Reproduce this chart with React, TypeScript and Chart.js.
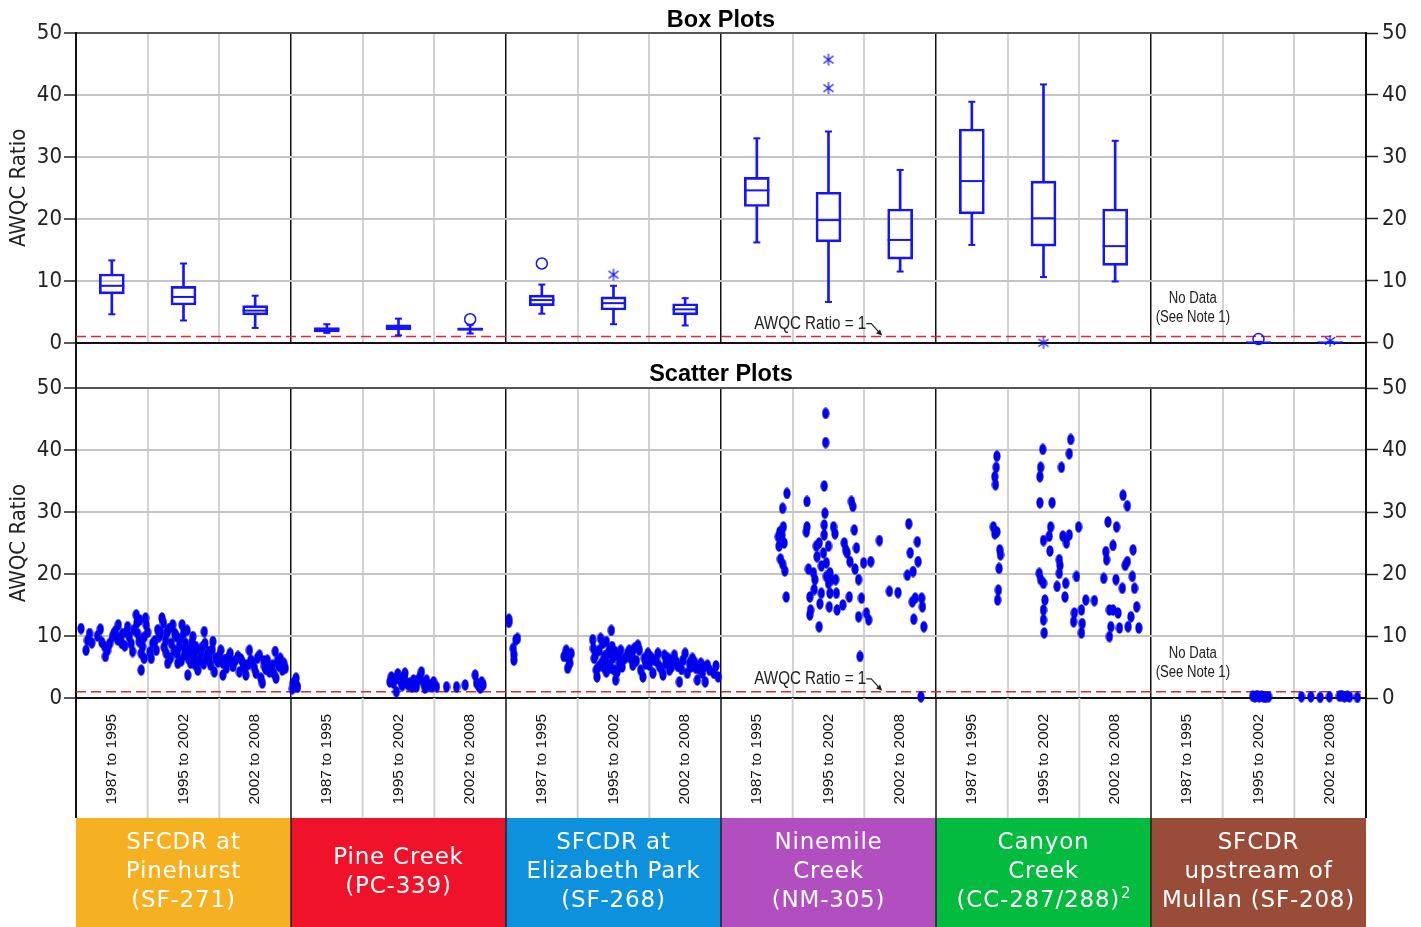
import React, { useEffect, useRef } from 'react';
import { Chart, registerables } from 'chart.js';

Chart.register(...registerables);

const W = 1421;
const BOX_H = 360;
const SCAT_H = 567;

const NARROW = '"Liberation Sans Narrow", "Arial Narrow", "DejaVu Sans Condensed", "Liberation Sans", sans-serif';
const SANS = '"Liberation Sans", Arial, sans-serif';
const BOXFONT = '"DejaVu Sans", Verdana, sans-serif';

const BOX_BLUE = '#1414ff';
const DOT_BLUE = '#0000ee';
const RED = '#e3262f';

// ---------------- data ----------------
const periods = ['1987 to 1995', '1995 to 2002', '2002 to 2008'];
const siteNames = [
  ['SFCDR at', 'Pinehurst', '(SF-271)'],
  ['Pine Creek', '(PC-339)'],
  ['SFCDR at', 'Elizabeth Park', '(SF-268)'],
  ['Ninemile', 'Creek', '(NM-305)'],
  ['Canyon', 'Creek', '(CC-287/288)'],
  ['SFCDR', 'upstream of', 'Mullan (SF-208)'],
];
const siteFootnotes = ['', '', '', '', '2', ''];
const siteColors = ['#F5B122', '#F0112A', '#0E91DD', '#B14FC1', '#02BB3F', '#994D39'];
const awqcLimit = 1;
const yMax = 50;
const yStep = 10;
const noDataSite = 5;
const noDataPeriod = 0;
const annotationSite = 3;

// Box-plot statistics per period: [min, q1, median, q3, max]; null = no data
const boxPinehurst = [[4.6, 7.9, 9.2, 11.1, 13.3], [3.6, 6.1, 7.4, 9.1, 12.8], [2.4, 4.5, 5.2, 6.0, 7.6]];
const boxPineCreek = [[1.6, 1.76, 2.1, 2.45, 3.0], [1.2, 2.1, 2.55, 2.9, 3.9], [1.5, 2.0, 2.2, 2.4, 2.9]];
const boxElizabeth = [[4.7, 6.0, 6.9, 7.7, 9.4], [3.0, 5.3, 6.4, 7.4, 9.2], [2.8, 4.5, 5.4, 6.3, 7.2]];
const boxNinemile = [[16.2, 22.0, 24.6, 26.7, 33.0], [6.6, 16.3, 19.8, 24.3, 34.1], [11.5, 13.5, 16.6, 21.6, 27.9]];
const boxCanyon = [[15.8, 20.8, 26.1, 34.5, 38.9], [10.6, 15.6, 20.1, 26.1, 41.7], [9.9, 12.5, 15.6, 21.6, 32.6]];
const boxMullan = [null, [0, 0, 0.05, 0.12, 0.15], [0, 0, 0.05, 0.12, 0.15]];
const boxStats = [boxPinehurst, boxPineCreek, boxElizabeth, boxNinemile, boxCanyon, boxMullan];

// Outliers: [site, period, value]
const outlierCircles = [[1, 2, 3.8], [2, 0, 12.8], [5, 1, 0.6]];
const outlierStars = [[2, 1, 11.0], [3, 1, 45.7], [3, 1, 41.1], [4, 1, 0.0], [5, 2, 0.3]];

// Scatter samples per site: [position across the three periods (0-3), AWQC ratio]
const scatPinehurst = [
  [0.07, 11.2], [0.19, 10.4], [0.16, 9.3], [0.14, 7.7], [0.34, 11.1], [0.40, 8.3], [0.41, 6.7], [0.44, 7.7],
  [0.47, 8.8], [0.51, 9.9], [0.53, 10.4], [0.59, 11.8], [0.58, 9.4], [0.64, 8.8], [0.65, 10.4], [0.72, 11.5],
  [0.71, 10.7], [0.74, 9.9], [0.77, 8.8], [0.79, 7.5], [0.84, 13.4], [0.85, 12.1], [0.86, 10.4], [0.88, 9.1],
  [0.91, 7.2], [0.91, 4.5], [0.97, 12.9], [0.98, 11.8], [0.93, 8.3], [0.95, 6.4], [1.05, 6.4], [1.07, 8.8],
  [1.12, 7.7], [1.14, 11.0], [1.16, 9.9], [1.20, 12.9], [1.22, 12.1], [1.25, 9.4], [1.26, 7.2], [1.28, 5.6],
  [1.30, 11.2], [1.33, 8.8], [1.35, 11.8], [1.37, 7.7], [1.40, 9.9], [1.42, 5.6], [1.44, 8.3], [1.48, 11.8],
  [1.50, 10.4], [1.51, 6.9], [1.53, 8.8], [1.56, 3.7], [1.58, 7.7], [1.60, 5.6], [1.63, 9.9], [1.65, 6.7],
  [1.67, 8.3], [1.70, 4.5], [1.74, 7.2], [1.79, 10.7], [1.80, 8.8], [1.81, 6.1], [1.85, 7.5], [1.88, 5.3],
  [1.91, 9.1], [1.93, 4.2], [1.95, 6.4], [2.02, 7.7], [2.05, 5.6], [2.05, 3.7], [2.12, 6.4], [2.15, 7.2],
  [2.19, 5.1], [2.26, 6.7], [2.28, 4.2], [2.33, 5.6], [2.37, 3.7], [2.42, 7.7], [2.44, 6.1], [2.49, 4.8],
  [2.53, 6.4], [2.56, 6.9], [2.58, 3.2], [2.60, 2.4], [2.63, 5.1], [2.67, 6.1], [2.70, 4.2], [2.74, 5.3],
  [2.78, 7.5], [2.79, 3.2], [2.81, 5.9], [2.85, 6.4], [2.88, 4.5],
  [0.22, 8.9], [0.30, 10.0], [0.36, 9.0], [0.55, 10.8], [0.62, 9.8], [0.68, 8.4], [0.81, 11.0], [0.89, 12.6],
  [0.95, 9.8], [1.00, 10.6], [1.03, 7.4], [1.10, 9.2], [1.18, 10.6], [1.23, 8.2], [1.27, 10.6], [1.32, 6.5],
  [1.38, 10.4], [1.41, 7.2], [1.45, 9.5], [1.47, 6.0], [1.52, 8.0], [1.55, 10.9], [1.57, 6.3], [1.61, 7.4],
  [1.62, 9.0], [1.66, 5.4], [1.68, 7.8], [1.72, 6.0], [1.76, 8.2], [1.78, 5.5], [1.83, 7.0], [1.86, 6.6],
  [1.90, 7.8], [1.98, 5.8], [2.00, 6.8], [2.08, 6.2], [2.10, 4.8], [2.17, 5.8], [2.22, 6.0], [2.30, 6.3],
  [2.35, 4.9], [2.40, 5.4], [2.46, 5.7], [2.51, 4.0], [2.62, 6.0], [2.65, 4.6], [2.72, 5.0], [2.76, 4.0],
  [2.83, 5.2], [2.90, 5.6], [2.92, 4.8],
];
const scatPineCreek = [
  [0.02, 1.5], [0.03, 2.4], [0.07, 3.2], [0.08, 2.0], [0.09, 1.7],
  [1.38, 2.6], [1.40, 3.4], [1.43, 2.4], [1.45, 3.0], [1.47, 1.0], [1.49, 3.9], [1.52, 2.9], [1.55, 2.0],
  [1.57, 3.4], [1.59, 4.0], [1.61, 2.5], [1.64, 2.0], [1.66, 2.4], [1.69, 1.8], [1.71, 2.9], [1.74, 2.2],
  [1.75, 1.8], [1.78, 3.0], [1.80, 3.4], [1.82, 4.2], [1.85, 2.4], [1.87, 1.6], [1.89, 2.9], [1.92, 2.0],
  [1.94, 2.1], [1.97, 1.8], [1.99, 2.6], [2.03, 1.8], [2.17, 1.8], [2.31, 1.8], [2.43, 2.1], [2.57, 3.7],
  [2.59, 2.4], [2.62, 1.9], [2.64, 1.6], [2.66, 2.6], [2.68, 2.1],
];
const scatElizabeth = [
  [0.04, 12.7], [0.04, 12.2], [0.14, 9.4], [0.16, 9.6], [0.10, 8.0], [0.11, 6.1], [0.11, 7.0],
  [0.81, 6.7], [0.84, 7.7], [0.86, 6.9], [0.88, 6.1], [0.86, 4.8], [0.91, 7.2], [0.89, 5.6],
  [1.21, 9.4], [1.22, 8.0], [1.23, 6.4], [1.26, 4.5], [1.27, 3.4], [1.30, 7.7], [1.33, 5.6], [1.35, 8.8],
  [1.37, 6.7], [1.40, 4.2], [1.40, 9.1], [1.42, 7.2], [1.44, 5.3], [1.47, 10.9], [1.48, 8.3], [1.49, 6.4],
  [1.51, 4.5], [1.53, 2.9], [1.56, 6.9], [1.58, 5.6], [1.60, 7.7], [1.63, 6.1], [1.70, 7.2], [1.72, 7.7],
  [1.74, 6.4], [1.77, 5.3], [1.79, 8.0], [1.84, 8.5], [1.86, 7.7], [1.88, 4.5], [1.91, 3.4], [1.93, 6.4],
  [1.98, 7.2], [2.00, 5.3], [2.05, 4.0], [2.07, 6.1], [2.12, 7.2], [2.14, 5.1], [2.19, 3.7], [2.21, 6.9],
  [2.23, 5.6], [2.28, 4.5], [2.33, 6.1], [2.35, 6.9], [2.40, 5.1], [2.42, 2.6], [2.47, 6.1], [2.50, 7.2],
  [2.53, 4.0], [2.56, 5.6], [2.60, 6.4], [2.65, 4.8], [2.67, 2.9], [2.72, 5.6], [2.74, 4.0], [2.78, 2.6],
  [2.81, 5.3], [2.84, 4.5],
  [1.25, 7.0], [1.29, 5.0], [1.32, 9.6], [1.36, 5.0], [1.39, 6.2], [1.45, 7.8], [1.46, 4.8], [1.52, 7.5],
  [1.55, 4.2], [1.62, 5.0], [1.67, 6.5], [1.76, 6.8], [1.82, 6.0], [1.95, 5.5], [2.02, 6.6], [2.10, 6.0],
  [2.17, 4.6], [2.26, 6.4], [2.31, 5.0], [2.38, 5.8], [2.45, 4.6], [2.58, 5.0], [2.63, 5.8], [2.70, 4.6],
  [2.76, 5.0], [2.90, 4.0], [2.93, 5.2], [2.96, 3.4],
];
const scatNinemile = [
  [0.92, 33.0], [0.86, 30.6], [0.82, 26.8], [0.80, 26.0], [0.87, 27.6], [0.85, 26.3], [0.88, 25.0], [0.81, 24.5],
  [0.83, 22.4], [0.86, 21.6], [0.89, 20.5], [0.91, 16.3],
  [1.20, 31.7], [1.20, 27.6], [1.19, 26.8], [1.22, 20.8], [1.24, 16.3], [1.25, 14.2], [1.24, 13.4], [1.29, 20.2],
  [1.31, 19.1], [1.30, 17.5], [1.33, 24.5], [1.34, 22.8], [1.37, 25.0], [1.37, 11.5], [1.38, 15.2], [1.40, 16.9],
  [1.40, 21.3], [1.43, 23.4], [1.44, 26.3], [1.44, 27.9], [1.45, 29.8], [1.44, 34.2], [1.46, 41.2], [1.46, 45.9],
  [1.47, 21.8], [1.50, 24.5], [1.47, 19.6], [1.50, 18.5], [1.52, 20.2], [1.52, 16.9], [1.51, 14.7], [1.54, 19.1],
  [1.57, 27.6], [1.59, 26.5], [1.60, 19.1], [1.61, 16.9], [1.62, 14.2], [1.70, 15.0], [1.72, 25.0], [1.74, 23.9],
  [1.76, 23.4], [1.79, 16.3], [1.80, 22.0], [1.82, 31.7], [1.84, 30.9], [1.86, 27.1], [1.87, 20.8], [1.89, 24.2],
  [1.92, 19.1], [1.92, 13.1], [1.94, 6.7], [1.96, 16.1], [1.99, 21.8], [2.03, 13.7], [2.06, 12.6], [2.09, 22.0],
  [2.21, 25.4], [2.35, 17.2], [2.47, 17.0], [2.60, 19.8], [2.62, 28.1], [2.64, 23.4], [2.68, 20.4], [2.67, 15.5],
  [2.71, 16.1], [2.74, 25.2], [2.75, 22.0], [2.69, 12.7], [2.80, 16.1], [2.81, 14.7], [2.83, 11.5], [2.79, 0.2],
];
const scatCanyon = [
  [0.85, 39.0], [0.84, 37.2], [0.82, 35.7], [0.83, 34.4], [0.80, 27.6], [0.82, 26.5], [0.85, 26.8], [0.89, 23.9],
  [0.90, 23.1], [0.88, 20.9], [0.87, 17.4], [0.86, 15.8],
  [1.49, 40.1], [1.46, 37.2], [1.45, 35.7], [1.45, 31.5], [1.62, 31.5], [1.60, 27.6], [1.58, 26.1], [1.50, 25.4],
  [1.59, 23.7], [1.72, 22.3], [1.73, 21.4], [1.72, 20.1], [1.44, 20.1], [1.46, 19.1], [1.50, 18.5], [1.52, 15.8],
  [1.50, 14.2], [1.50, 12.6], [1.51, 10.5], [1.69, 18.0], [1.77, 26.1], [1.82, 25.0], [1.86, 26.3], [1.75, 37.2],
  [1.86, 39.4], [1.88, 41.7], [1.81, 18.5], [1.80, 16.3], [1.93, 13.7], [1.92, 12.3], [1.96, 19.6], [1.99, 27.6],
  [2.03, 14.2], [2.04, 12.0], [2.03, 10.5], [2.09, 15.8], [2.21, 15.7], [2.34, 19.3], [2.37, 23.6], [2.38, 22.3],
  [2.40, 28.4], [2.47, 24.6], [2.51, 19.1], [2.52, 27.6], [2.42, 14.2], [2.44, 11.5], [2.42, 9.9], [2.47, 14.2],
  [2.54, 13.7], [2.56, 11.3], [2.60, 17.7], [2.61, 32.7], [2.67, 31.0], [2.64, 21.4], [2.67, 22.0], [2.72, 13.1],
  [2.68, 11.5], [2.74, 19.6], [2.75, 23.9], [2.77, 17.7], [2.80, 14.7], [2.83, 11.3],
];
const scatMullan = [
  [1.42, 0.3], [1.45, 0.2], [1.48, 0.4], [1.51, 0.2], [1.54, 0.3], [1.57, 0.2], [1.60, 0.1], [1.64, 0.2],
  [2.10, 0.2], [2.23, 0.2], [2.36, 0.1], [2.49, 0.2], [2.63, 0.3], [2.66, 0.4], [2.70, 0.2], [2.74, 0.3],
  [2.77, 0.2], [2.88, 0.1],
];
const scatterSites = [scatPinehurst, scatPineCreek, scatElizabeth, scatNinemile, scatCanyon, scatMullan];

// ---------------- helpers ----------------
const nSites = siteNames.length;
const nPer = periods.length;
const xMax = nSites * nPer;
const periodCenter = (s: number, p: number) => s * nPer + p + 0.5;
const tickCenters: number[] = [];
for (let s = 0; s < nSites; s++) for (let p = 0; p < nPer; p++) tickCenters.push(periodCenter(s, p));

function makeDot(color: string) {
  const c = document.createElement('canvas');
  c.width = 8; c.height = 12;
  const g = c.getContext('2d')!;
  g.fillStyle = color;
  g.beginPath();
  g.ellipse(4, 6, 3.6, 5.7, 0, 0, Math.PI * 2);
  g.fill();
  return c;
}
function makeAsterisk(color: string) {
  const c = document.createElement('canvas');
  c.width = 14; c.height = 14;
  const g = c.getContext('2d')!;
  g.strokeStyle = color;
  g.lineWidth = 1.2;
  g.beginPath();
  g.moveTo(7, 1); g.lineTo(7, 13);
  const dx = 6.2 * Math.cos(Math.PI / 5), dy = 6.2 * Math.sin(Math.PI / 5);
  g.moveTo(7 - dx, 7 - dy); g.lineTo(7 + dx, 7 + dy);
  g.moveTo(7 - dx, 7 + dy); g.lineTo(7 + dx, 7 - dy);
  g.stroke();
  return c;
}

// narrow text drawn as real canvas text, horizontally condensed
function narrowText(ctx: any, text: string, x: number, y: number, size: number, align: string) {
  ctx.save();
  ctx.font = `${size}px ${SANS}`;
  ctx.textAlign = align;
  ctx.textBaseline = 'middle';
  ctx.translate(x, y);
  ctx.scale(0.82, 1);
  ctx.fillText(text, 0, 0);
  ctx.restore();
}

const xGridColor = (c: any) => (c.tick && c.tick.value % nPer === 0 ? '#111' : '#d2d2d2');
const xGridWidth = (c: any) => (c.tick && c.tick.value % nPer === 0 ? 1.5 : 2);
const yGridColor = (c: any) => {
  const v = c.tick ? c.tick.value : -1;
  return v === 0 ? '#111' : v === yMax ? '#555' : '#c4c4c4';
};

function yAxes() {
  const tickFont = { family: NARROW, size: 22 };
  return {
    y: {
      type: 'linear', position: 'left', min: 0, max: yMax,
      ticks: { stepSize: yStep, padding: 2, color: '#222', font: tickFont },
      grid: { color: yGridColor, lineWidth: 2, tickLength: 12, tickColor: '#222', tickWidth: 1.5 },
      border: { display: true, color: '#111', width: 2 },
      title: { display: true, text: 'AWQC Ratio', color: '#222', font: tickFont, padding: { top: 6, bottom: 0 } },
      afterFit: (s: any) => { s.width = 76; },
    },
    y2: {
      type: 'linear', position: 'right', min: 0, max: yMax,
      ticks: { stepSize: yStep, padding: 4, color: '#222', font: tickFont },
      grid: { drawOnChartArea: false, tickLength: 12, tickColor: '#222', tickWidth: 1.5 },
      border: { display: true, color: '#111', width: 2 },
      afterFit: (s: any) => { s.width = 55; },
    },
  };
}

const gridX = {
  type: 'linear', position: 'bottom', min: 0, max: xMax, offset: false,
  ticks: { display: false, stepSize: 1 },
  grid: { color: xGridColor, lineWidth: xGridWidth, drawTicks: false, offset: false },
  border: { display: true, color: '#111', width: 2 },
};

const decorPlugin = {
  id: 'decor',
  afterDraw(chart: any, _args: any, opts: any) {
    const { ctx, chartArea: a } = chart;
    const xs = chart.scales.x, ys = chart.scales.y;
    const px = (v: number) => xs.getPixelForValue(v);
    const yLine = ys.getPixelForValue(awqcLimit);
    ctx.save();
    // title
    ctx.fillStyle = '#000';
    ctx.font = `bold 23.5px ${SANS}`;
    ctx.textAlign = 'center';
    ctx.textBaseline = 'alphabetic';
    ctx.fillText(opts.title, (a.left + a.right) / 2, opts.titleBaseline);

    // AWQC annotation with arrow
    const tipX = px(annotationSite * nPer + 2.25);
    const tipY = yLine - 1;
    ctx.fillStyle = '#222';
    narrowText(ctx, `AWQC Ratio = ${awqcLimit}`, tipX - 16, yLine - 13, 18.5, 'right');
    ctx.strokeStyle = '#222';
    ctx.lineWidth = 1.2;
    ctx.beginPath();
    ctx.moveTo(tipX - 16, yLine - 13);
    ctx.lineTo(tipX - 11, yLine - 13);
    ctx.lineTo(tipX - 2, tipY - 2);
    ctx.stroke();
    ctx.beginPath();
    ctx.moveTo(tipX, tipY);
    ctx.lineTo(tipX - 6.2, tipY - 2.2);
    ctx.lineTo(tipX - 2.2, tipY - 6.2);
    ctx.closePath();
    ctx.fill();

    // no data note
    const nx = px(periodCenter(noDataSite, noDataPeriod)) + 6;
    narrowText(ctx, 'No Data', nx, yLine - 38, 16, 'center');
    narrowText(ctx, '(See Note 1)', nx, yLine - 19, 16, 'center');

    // axis lines through the gap between panels
    ctx.strokeStyle = '#111';
    ctx.lineWidth = 2;
    for (const v of [0, xMax]) {
      const x = px(v);
      ctx.beginPath();
      if (opts.extendDown) { ctx.moveTo(x, a.bottom); ctx.lineTo(x, chart.height); }
      if (opts.extendUp) { ctx.moveTo(x, 0); ctx.lineTo(x, a.top); }
      ctx.stroke();
    }

    if (opts.labels) {
      const xl = chart.scales.xl;
      const bandTop = xl.bottom;
      // grid lines through the tick label band
      for (let v = 0; v <= xMax; v++) {
        const x = px(v);
        const major = v % nPer === 0;
        ctx.strokeStyle = major ? '#111' : '#d2d2d2';
        ctx.lineWidth = major ? (v === 0 || v === xMax ? 2 : 1.5) : 2;
        ctx.beginPath();
        ctx.moveTo(x, a.bottom);
        ctx.lineTo(x, bandTop);
        ctx.stroke();
      }
      // coloured site boxes
      const h = chart.height - bandTop;
      for (let s = 0; s < nSites; s++) {
        const x0 = px(s * nPer), x1 = px((s + 1) * nPer);
        ctx.fillStyle = siteColors[s];
        ctx.fillRect(x0, bandTop, x1 - x0, h);
      }
      ctx.strokeStyle = '#222';
      ctx.lineWidth = 1.5;
      for (let s = 1; s < nSites; s++) {
        const x = px(s * nPer);
        ctx.beginPath(); ctx.moveTo(x, bandTop); ctx.lineTo(x, chart.height); ctx.stroke();
      }
      ctx.fillStyle = '#fff';
      ctx.textBaseline = 'middle';
      (ctx as any).letterSpacing = '0.8px';
      const lh = 29;
      for (let s = 0; s < nSites; s++) {
        const cx = (px(s * nPer) + px((s + 1) * nPer)) / 2;
        const lines = siteNames[s];
        const cy = bandTop + h / 2;
        lines.forEach((ln, i) => {
          const y = cy + (i - (lines.length - 1) / 2) * lh;
          const last = i === lines.length - 1;
          const sup = last ? siteFootnotes[s] : '';
          ctx.font = `23px ${BOXFONT}`;
          const wMain = ctx.measureText(ln).width;
          let wSup = 0;
          if (sup) { ctx.font = `15px ${BOXFONT}`; wSup = ctx.measureText(sup).width; }
          const start = cx - (wMain + wSup) / 2;
          ctx.textAlign = 'left';
          ctx.font = `23px ${BOXFONT}`;
          ctx.fillText(ln, start, y);
          if (sup) { ctx.font = `15px ${BOXFONT}`; ctx.fillText(sup, start + wMain + 1, y - 7); }
        });
      }
    }
    ctx.restore();
  },
};

function buildBoxConfig(star: HTMLCanvasElement): any {
  const boxes: any[] = [], whiskers: any[] = [], medians: any[] = [], caps: any[] = [];
  boxStats.forEach((site, s) => site.forEach((st, p) => {
    if (!st) return;
    const x = periodCenter(s, p);
    const [mn, q1, md, q3, mx] = st;
    boxes.push({ x, y: [q1, q3] });
    whiskers.push({ x, y: [mn, q1] }, { x, y: [q3, mx] });
    medians.push({ x, y: md });
    caps.push({ x, y: mn }, { x, y: mx });
  }));
  const circles = outlierCircles.map(([s, p, v]) => ({ x: periodCenter(s, p), y: v }));
  const stars = outlierStars.map(([s, p, v]) => ({ x: periodCenter(s, p), y: v }));
  return {
    type: 'scatter',
    data: {
      datasets: [
        { type: 'scatter', data: stars, pointStyle: star, pointRadius: 6, clip: false },
        { type: 'scatter', data: circles, pointStyle: 'circle', pointRadius: 5.5, pointBorderColor: BOX_BLUE, pointBackgroundColor: 'rgba(0,0,0,0)', pointBorderWidth: 1.5, clip: false },
        { type: 'scatter', data: medians, pointStyle: 'line', pointRadius: 12.5, pointBorderColor: BOX_BLUE, pointBorderWidth: 2, clip: false },
        { type: 'scatter', data: caps, pointStyle: 'line', pointRadius: 3.5, pointBorderColor: BOX_BLUE, pointBorderWidth: 2, clip: false },
        { type: 'bar', data: boxes, backgroundColor: 'rgba(0,0,0,0)', borderColor: BOX_BLUE, borderWidth: 2, borderSkipped: false, barThickness: 25, grouped: false, clip: false },
        { type: 'bar', data: whiskers, backgroundColor: BOX_BLUE, borderWidth: 0, barThickness: 2, grouped: false, clip: false },
        { type: 'line', data: [{ x: 0, y: awqcLimit }, { x: xMax, y: awqcLimit }], borderColor: RED, borderWidth: 1.5, borderDash: [10, 5], pointRadius: 0, clip: false },
      ],
    },
    options: {
      responsive: false, maintainAspectRatio: false, animation: false, devicePixelRatio: 1, events: [],
      layout: { padding: { top: 33, bottom: 14, left: 0, right: 0 } },
      plugins: { legend: { display: false }, tooltip: { enabled: false }, decor: { title: 'Box Plots', titleBaseline: 26.5, extendDown: true } },
      scales: { x: gridX, ...yAxes() },
    },
    plugins: [decorPlugin],
  };
}

function buildScatterConfig(dot: HTMLCanvasElement): any {
  const datasets: any[] = scatterSites.map((pts, s) => ({
    type: 'scatter',
    data: pts.map(([t, v]) => ({ x: s * nPer + t, y: v })),
    pointStyle: dot, pointRadius: 5, clip: false, xAxisID: 'x',
  }));
  datasets.push({ type: 'line', data: [{ x: 0, y: awqcLimit }, { x: xMax, y: awqcLimit }], borderColor: RED, borderWidth: 1.5, borderDash: [10, 5], pointRadius: 0, clip: false, xAxisID: 'x' });
  return {
    type: 'scatter',
    data: { datasets },
    options: {
      responsive: false, maintainAspectRatio: false, animation: false, devicePixelRatio: 1, events: [],
      layout: { padding: { top: 28, bottom: 109, left: 0, right: 0 } },
      plugins: { legend: { display: false }, tooltip: { enabled: false }, decor: { title: 'Scatter Plots', titleBaseline: 21, extendUp: true, labels: true } },
      scales: {
        x: gridX,
        xl: {
          type: 'linear', position: 'bottom', weight: 1, min: 0, max: xMax, offset: false,
          afterBuildTicks: (axis: any) => { axis.ticks = tickCenters.map((v) => ({ value: v })); },
          ticks: {
            autoSkip: false, minRotation: 90, maxRotation: 90, padding: 16, color: '#111',
            font: { family: SANS, size: 15.5 },
            callback: (_v: any, i: number) => periods[i % nPer],
          },
          grid: { display: false, drawTicks: false },
          border: { display: false },
          afterFit: (s: any) => { s.height = 120; },
        },
        ...yAxes(),
      },
    },
    plugins: [decorPlugin],
  };
}

export default function App() {
  const boxRef = useRef<HTMLCanvasElement>(null);
  const scatRef = useRef<HTMLCanvasElement>(null);
  useEffect(() => {
    const star = makeAsterisk(BOX_BLUE);
    const dot = makeDot(DOT_BLUE);
    const c1 = new Chart(boxRef.current!, buildBoxConfig(star));
    const c2 = new Chart(scatRef.current!, buildScatterConfig(dot));
    return () => { c1.destroy(); c2.destroy(); };
  }, []);
  return (
    <div style={{ position: 'absolute', left: 0, top: 0, width: W, height: BOX_H + SCAT_H, background: '#fff', overflow: 'hidden' }}>
      <canvas ref={boxRef} width={W} height={BOX_H} style={{ position: 'absolute', left: 0, top: 0 }} />
      <canvas ref={scatRef} width={W} height={SCAT_H} style={{ position: 'absolute', left: 0, top: BOX_H }} />
    </div>
  );
}
